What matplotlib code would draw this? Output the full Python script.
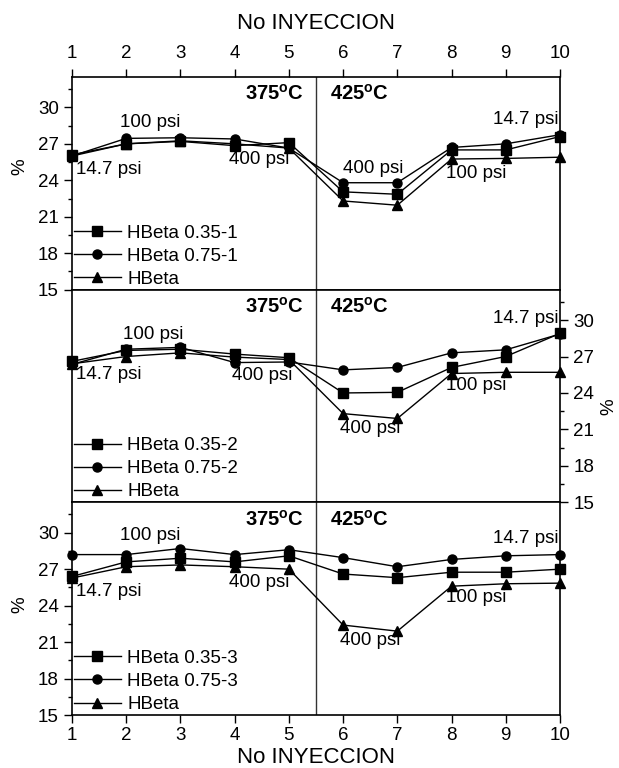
import matplotlib
matplotlib.use('Agg')
import matplotlib.pyplot as plt
from matplotlib.ticker import MultipleLocator
from matplotlib.lines import Line2D

plt.rcParams['font.family'] = ['Liberation Sans', 'DejaVu Sans']
plt.rcParams['mathtext.fontset'] = 'custom'
plt.rcParams['mathtext.rm'] = 'Liberation Sans'
plt.rcParams['mathtext.bf'] = 'Liberation Sans:bold'

# ---------------- data ----------------
injections = [1, 2, 3, 4, 5, 6, 7, 8, 9, 10]

p1_h035 = [26.1, 27.0, 27.2, 26.85, 27.1, 23.05, 22.85, 26.5, 26.5, 27.6]
p1_h075 = [26.0, 27.45, 27.5, 27.4, 26.65, 23.8, 23.8, 26.7, 27.0, 27.75]
p1_hbeta = [26.0, 27.0, 27.25, 27.0, 26.65, 22.3, 21.95, 25.75, 25.8, 25.9]

p2_h035 = [26.6, 27.5, 27.6, 27.2, 26.9, 24.0, 24.05, 26.1, 27.0, 28.9]
p2_h075 = [26.35, 27.6, 27.75, 26.5, 26.55, 25.9, 26.1, 27.3, 27.55, 28.85]
p2_hbeta = [26.4, 27.0, 27.3, 26.95, 26.75, 22.3, 21.9, 25.6, 25.7, 25.7]

p3_h035 = [26.4, 27.6, 27.9, 27.6, 28.1, 26.6, 26.3, 26.75, 26.75, 27.0]
p3_h075 = [28.2, 28.2, 28.7, 28.2, 28.6, 27.95, 27.2, 27.8, 28.1, 28.2]
p3_hbeta = [26.27, 27.2, 27.35, 27.2, 27.0, 22.4, 21.9, 25.6, 25.8, 25.85]

labels1 = ['HBeta 0.35-1', 'HBeta 0.75-1', 'HBeta']
labels2 = ['HBeta 0.35-2', 'HBeta 0.75-2', 'HBeta']
labels3 = ['HBeta 0.35-3', 'HBeta 0.75-3', 'HBeta']

temp_labels = [r'375$^{\mathbf{o}}$C', r'425$^{\mathbf{o}}$C']
pressure_labels = ['14.7 psi', '100 psi', '400 psi', '400 psi', '100 psi', '14.7 psi']

# annotation positions per panel (x, y) for pressure labels
ann1 = [(1.07, 24.85), (2.45, 28.75), (4.45, 25.7), (6.55, 25.0), (8.45, 24.6), (9.97, 29.0)]
ann2 = [(1.07, 25.5), (2.5, 28.8), (4.5, 25.45), (6.5, 21.1), (8.45, 24.6), (9.97, 30.1)]
ann3 = [(1.07, 25.2), (2.45, 29.75), (4.45, 25.9), (6.5, 21.1), (8.45, 24.7), (9.97, 29.5)]

panels = [
    (p1_h035, p1_h075, p1_hbeta, labels1, ann1),
    (p2_h035, p2_h075, p2_hbeta, labels2, ann2),
    (p3_h035, p3_h075, p3_hbeta, labels3, ann3),
]

FS = 13.5
TFS = 13.5
LFS = 16
fig = plt.figure(figsize=(6.19, 7.68), dpi=100)
gs = fig.add_gridspec(3, 1, hspace=0, left=72/619, right=560/619,
                      top=1-77/768, bottom=1-715/768)

markers = ['s', 'o', '^']
for i, (a, b, c, labs, ann) in enumerate(panels):
    ax = fig.add_subplot(gs[i])
    handles = []
    for ys, m, lab in zip([a, b, c], markers, labs):
        ax.plot(injections, ys, color='black', lw=1.0, marker=m, ms=6.5,
                clip_on=False, zorder=3)
        handles.append(Line2D([], [], color='black', lw=1.0, marker=m, ms=6.5, label=lab))
    ax.set_xlim(1, 10)
    ax.set_ylim(15, 32.5)
    ax.axvline(5.5, color='#333333', lw=1.0, zorder=1)
    ax.yaxis.set_major_locator(MultipleLocator(3))
    ax.yaxis.set_minor_locator(MultipleLocator(1.5))
    ax.xaxis.set_major_locator(MultipleLocator(1))
    for sp in ax.spines.values():
        sp.set_linewidth(1.2)

    ax.tick_params(which='major', length=5.5, width=1.0, direction='out',
                   labelsize=TFS, pad=4)
    ax.tick_params(which='minor', length=3, width=1.0, direction='out')

    if i == 0:
        ax.tick_params(axis='x', which='both', bottom=False, labelbottom=False,
                       top=True, labeltop=True)
        ax.tick_params(axis='x', which='major', pad=5)
        ax.xaxis.set_label_position('top')
        ax.set_xlabel('No INYECCION', fontsize=LFS, labelpad=12)
        ax.tick_params(axis='y', which='both', left=True, labelleft=True,
                       right=False, labelright=False)
        ax.set_ylabel('%', fontsize=FS)
        ax.yaxis.set_label_coords(-0.09, 0.58)
    elif i == 1:
        ax.tick_params(axis='x', which='both', bottom=False, labelbottom=False,
                       top=False, labeltop=False)
        ax.tick_params(axis='y', which='both', left=False, labelleft=False,
                       right=True, labelright=True)
        ax.yaxis.set_label_position('right')
        ax.set_ylabel('%', fontsize=FS, rotation=90)
        ax.yaxis.set_label_coords(1.083, 0.45)
    else:
        ax.tick_params(axis='x', which='both', bottom=True, labelbottom=True,
                       top=False, labeltop=False)
        ax.tick_params(axis='x', which='major', pad=3)
        ax.set_xlabel('No INYECCION', fontsize=LFS, labelpad=2)
        ax.tick_params(axis='y', which='both', left=True, labelleft=True,
                       right=False, labelright=False)
        ax.set_ylabel('%', fontsize=FS)
        ax.yaxis.set_label_coords(-0.09, 0.52)

    # temperature labels
    ax.text(5.27, 31.1, temp_labels[0], fontsize=14.5, fontweight='bold',
            ha='right', va='center')
    ax.text(5.75, 31.1, temp_labels[1], fontsize=14.5, fontweight='bold',
            ha='left', va='center')

    # pressure labels
    for k, (txt, (xx, yy)) in enumerate(zip(pressure_labels, ann)):
        if k == 0:
            ha = 'left'
        elif k == 5:
            ha = 'right'
        else:
            ha = 'center'
        ax.text(xx, yy, txt, fontsize=FS, ha=ha, va='center', zorder=4)

    ax.legend(handles=handles, loc='lower left', frameon=False, fontsize=FS,
              handlelength=2.5, handletextpad=0.35, borderaxespad=0.1,
              borderpad=0.0, labelspacing=0.32)

fig.savefig('out.png', dpi=100)
